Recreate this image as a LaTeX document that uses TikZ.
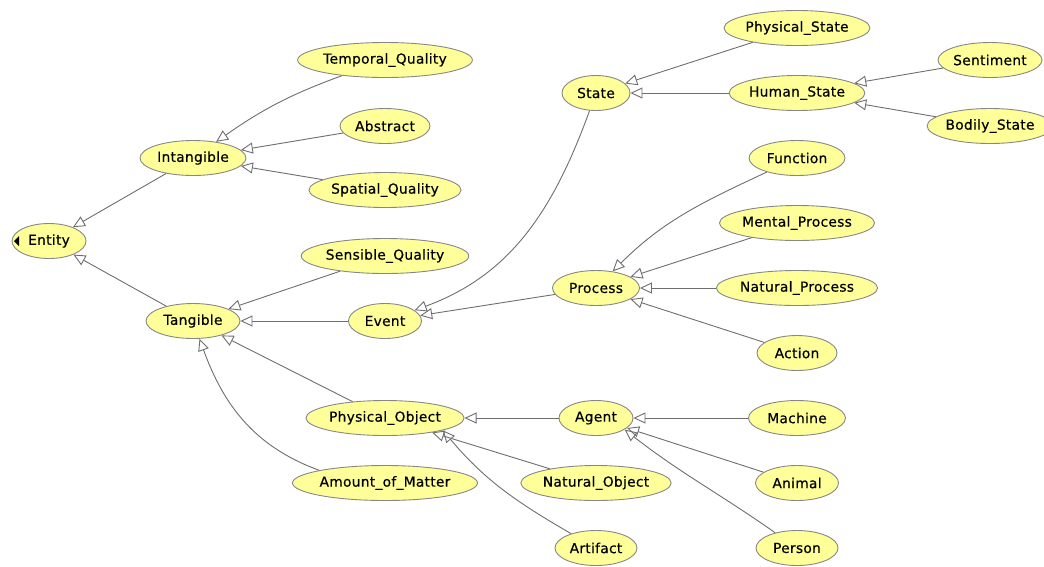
\documentclass[tikz,border=0pt]{standalone}
\usepackage{fontspec}
\newfontfamily\nodefont{DejaVu Sans}[LetterSpace=2, FakeBold=0.4]
\usetikzlibrary{shapes.geometric,arrows.meta}
\definecolor{nodefill}{RGB}{255,255,153}
\definecolor{nodeline}{RGB}{135,135,135}
\definecolor{edgecol}{RGB}{110,110,110}
\tikzset{
  cls/.style={ellipse, draw=nodeline, fill=nodefill, line width=0.9pt, minimum height=35pt, inner sep=0pt, font=\nodefont\fontsize{13.8}{15}\selectfont},
  isa/.style={draw=edgecol, line width=0.9pt, -{Triangle[open, length=12pt, width=11pt]}}
}
\begin{document}
\begin{tikzpicture}[x=1pt,y=-1pt]
\useasboundingbox (0,0) rectangle (1044,566);
% nodes
\node[cls, minimum width=74pt] (entity) at (49,241) {Entity};
\node[cls, minimum width=106pt] (intang) at (193,158) {Intangible};
\node[cls, minimum width=165pt] (temporal) at (385,60) {Temporal\_Quality};
\node[cls, minimum width=90pt] (abstract) at (385,126) {Abstract};
\node[cls, minimum width=146pt] (spatial) at (385,190) {Spatial\_Quality};
\node[cls, minimum width=94pt] (tang) at (193,321) {Tangible};
\node[cls, minimum width=154pt] (sensible) at (385,256) {Sensible\_Quality};
\node[cls, minimum width=73pt] (event) at (385,321) {Event};
\node[cls, minimum width=152pt] (physobj) at (385,418) {Physical\_Object};
\node[cls, minimum width=167pt] (matter) at (385,483) {Amount\_of\_Matter};
\node[cls, minimum width=68pt] (state) at (596,93) {State};
\node[cls, minimum width=141pt] (physstate) at (797,28) {Physical\_State};
\node[cls, minimum width=130pt] (humstate) at (797,93) {Human\_State};
\node[cls, minimum width=104pt] (sentiment) at (990,60) {Sentiment};
\node[cls, minimum width=120pt] (bodily) at (990,126) {Bodily\_State};
\node[cls, minimum width=96pt] (function) at (797,158) {Function};
\node[cls, minimum width=146pt] (mental) at (797,223) {Mental\_Process};
\node[cls, minimum width=148pt] (natproc) at (797,288) {Natural\_Process};
\node[cls, minimum width=80pt] (action) at (797,353) {Action};
\node[cls, minimum width=87pt] (process) at (596,288) {Process};
\node[cls, minimum width=74pt] (agent) at (596,418) {Agent};
\node[cls, minimum width=144pt] (natobj) at (596,483) {Natural\_Object};
\node[cls, minimum width=82pt] (artifact) at (596,548) {Artifact};
\node[cls, minimum width=97pt] (machine) at (797,418) {Machine};
\node[cls, minimum width=83pt] (animal) at (797,483) {Animal};
\node[cls, minimum width=82pt] (person) at (797,548) {Person};
% expand marker on Entity
\fill[black] (14,241) -- (19,236) -- (19,246) -- cycle;
% edges
\draw[isa] (intang) -- (entity);
\draw[isa] (tang) -- (entity);
\draw[isa] (temporal) to[out=200, in=35] (intang);
\draw[isa] (abstract) -- (intang);
\draw[isa] (spatial) -- (intang);
\draw[isa] (sensible) -- (tang);
\draw[isa] (event) -- (tang);
\draw[isa] (physobj) -- (tang);
\draw[isa] (matter.north west) to[out=160, in=-70] (tang);
\draw[isa] (state) to[out=-110, in=20] (event);
\draw[isa] (process) -- (event);
\draw[isa] (physstate) -- (state);
\draw[isa] (humstate) -- (state);
\draw[isa] (sentiment) -- (humstate);
\draw[isa] (bodily) -- (humstate);
\draw[isa] (function) to[out=205, in=45] (process);
\draw[isa] (mental) -- (process);
\draw[isa] (natproc) -- (process);
\draw[isa] (action) -- (process);
\draw[isa] (agent) -- (physobj);
\draw[isa] (natobj) -- (physobj);
\draw[isa] (artifact) to[out=150, in=-50] (physobj.-12);
\draw[isa] (machine) -- (agent);
\draw[isa] (animal) -- (agent);
\draw[isa] (person) to[out=145, in=-38] (agent.-22);
\end{tikzpicture}
\end{document}
